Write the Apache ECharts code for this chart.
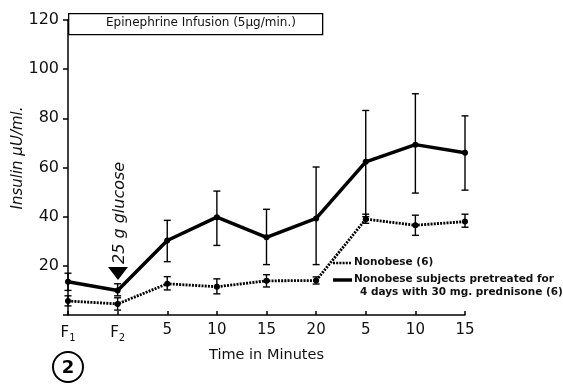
<!DOCTYPE html>
<html>
<head>
<meta charset="utf-8">
<script src="https://cdn.jsdelivr.net/npm/echarts/dist/echarts.min.js"></script>
<style>
  html, body { margin: 0; padding: 0; background: #fff; }
  #chart { width: 563px; height: 385px; }
</style>
</head>
<body>
<div id="chart"></div>
<script>
// time points (F1, F2 fasting, then minutes)
const timeLabels = ['F1', 'F2', '5', '10', '15', '20', '5', '10', '15']

// nonobese subjects pretreated with prednisone (solid line)
const prednisone     = [13.5, 10, 30.3, 39.8, 31.6, 39.3, 62.3, 69.3, 66]
const prednisoneLow  = [10, 7.8, 21.7, 28.3, 20.5, 20.5, 40, 49.6, 50.8]
const prednisoneHigh = [17, 12.7, 38.5, 50.4, 43, 60.2, 83.2, 90, 81]

// nonobese controls (dotted line)
const nonobese     = [5.7, 4.5, 12.7, 11.5, 13.9, 14, 39, 36.5, 38]
const nonobeseLow  = [3.7, 2, 10.2, 8.6, 11.4, 12.6, 37.3, 32.4, 35.7]
const nonobeseHigh = [7.8, 7, 15.6, 14.7, 16.4, 15.5, 41, 40.6, 41]

const yTicks = [0, 20, 40, 60, 80, 100, 120]

const FONT = '"DejaVu Sans", sans-serif'

const chart = echarts.init(document.getElementById('chart'))

function errorBars(low, high) {
  return {
    type: 'custom',
    silent: true,
    z: 5,
    data: low.map((v, i) => [i, v, high[i]]),
    renderItem: (params, api) => {
      const i = api.value(0)
      const lo = api.coord([i, api.value(1)])
      const hi = api.coord([i, api.value(2)])
      const w = 3.5
      const style = { stroke: '#000', lineWidth: 1.4 }
      return {
        type: 'group',
        children: [
          { type: 'line', shape: { x1: lo[0], y1: lo[1], x2: hi[0], y2: hi[1] }, style },
          { type: 'line', shape: { x1: hi[0] - w, y1: hi[1], x2: hi[0] + w, y2: hi[1] }, style },
          { type: 'line', shape: { x1: lo[0] - w, y1: lo[1], x2: lo[0] + w, y2: lo[1] }, style },
        ],
      }
    },
  }
}

chart.setOption({
  animation: false,
  backgroundColor: '#fff',
  grid: { left: 68, right: 98, top: 20, bottom: 70, containLabel: false, outerBoundsMode: 'none' },
  xAxis: {
    type: 'category',
    boundaryGap: false,
    data: timeLabels.map((t, i) => i + ''),
    axisLine: { lineStyle: { color: '#000', width: 1.5 } },
    axisTick: { inside: true, length: 4, interval: 0, lineStyle: { color: '#000', width: 1.5 } },
    axisLabel: {
      interval: 0,
      margin: 8,
      color: '#111',
      fontFamily: FONT,
      fontSize: 15,
      formatter: v => {
        const t = timeLabels[+v]
        return t[0] === 'F' ? 'F{sub|' + t.slice(1) + '}' : t
      },
      rich: { sub: { fontSize: 10, fontFamily: FONT, color: '#111', verticalAlign: 'bottom', padding: [10, 0, 0, 0] } },
    },
    name: 'Time in Minutes',
    nameLocation: 'middle',
    nameGap: 29,
    nameTextStyle: { fontFamily: FONT, fontSize: 14.5, color: '#111' },
  },
  yAxis: {
    type: 'value',
    min: yTicks[0],
    max: yTicks[yTicks.length - 1],
    interval: 20,
    splitLine: { show: false },
    axisLine: { show: true, lineStyle: { color: '#000', width: 1.5 } },
    axisTick: { show: true, length: 5, lineStyle: { color: '#000', width: 1.5 } },
    axisLabel: {
      margin: 9,
      color: '#111',
      fontFamily: FONT,
      fontSize: 16,
      formatter: v => (v === 0 ? '' : v),
    },
  },
  series: [
    {
      name: 'Nonobese subjects pretreated for 4 days with 30 mg. prednisone (6)',
      type: 'line',
      data: prednisone,
      symbol: 'circle',
      symbolSize: 6,
      itemStyle: { color: '#000' },
      lineStyle: { color: '#000', width: 3.5 },
      z: 4,
    },
    {
      name: 'Nonobese (6)',
      type: 'line',
      data: nonobese,
      symbol: 'circle',
      symbolSize: 6,
      itemStyle: { color: '#000' },
      lineStyle: { color: '#000', width: 2.8, type: [2, 1.2] },
      z: 4,
    },
    errorBars(prednisoneLow, prednisoneHigh),
    errorBars(nonobeseLow, nonobeseHigh),
  ],
  graphic: [
    // y axis title
    {
      type: 'text', x: 18, y: 158, rotation: Math.PI / 2,
      style: { text: 'Insulin \u03bcU/ml.', font: 'italic 15px ' + FONT, fill: '#111', textAlign: 'center', textVerticalAlign: 'middle' },
    },
    // infusion box
    {
      type: 'rect', left: 68, top: 13,
      shape: { width: 254, height: 21 },
      style: { fill: '#fff', stroke: '#000', lineWidth: 1.3 },
      z: 10,
    },
    {
      type: 'text', left: 106, top: 17,
      style: { text: 'Epinephrine Infusion (5\u03bcg/min.)', font: '12px ' + FONT, fill: '#111' },
      z: 11,
    },
    // glucose arrow + label
    {
      type: 'polygon',
      shape: { points: [[108, 267], [128, 267], [118, 280]] },
      style: { fill: '#000' },
      z: 10,
    },
    {
      type: 'text', x: 112, y: 264, rotation: Math.PI / 2,
      style: { text: '25 g glucose', font: 'italic 16px ' + FONT, fill: '#111', textAlign: 'left', textVerticalAlign: 'top' },
      z: 10,
    },
    // legend
    {
      type: 'line', shape: { x1: 333, y1: 263, x2: 352, y2: 263 },
      style: { stroke: '#000', lineWidth: 2.5, lineDash: [2, 1.2] },
    },
    {
      type: 'text', left: 354, top: 257,
      style: { text: 'Nonobese (6)', font: 'bold 10.5px ' + FONT, fill: '#111' },
    },
    {
      type: 'line', shape: { x1: 333, y1: 280, x2: 352, y2: 280 },
      style: { stroke: '#000', lineWidth: 3.5 },
    },
    {
      type: 'text', left: 354, top: 274,
      style: { text: 'Nonobese subjects pretreated for', font: 'bold 10.5px ' + FONT, fill: '#111' },
    },
    {
      type: 'text', left: 360, top: 287,
      style: { text: '4 days with 30 mg. prednisone (6)', font: 'bold 10.5px ' + FONT, fill: '#111' },
    },
    // figure number
    {
      type: 'circle', shape: { cx: 68, cy: 367, r: 15 },
      style: { fill: 'none', stroke: '#000', lineWidth: 2 },
    },
    {
      type: 'text', x: 68, y: 368,
      style: { text: '2', font: 'bold 18px ' + FONT, fill: '#000', textAlign: 'center', textVerticalAlign: 'middle' },
    },
  ],
})
</script>
</body>
</html>
